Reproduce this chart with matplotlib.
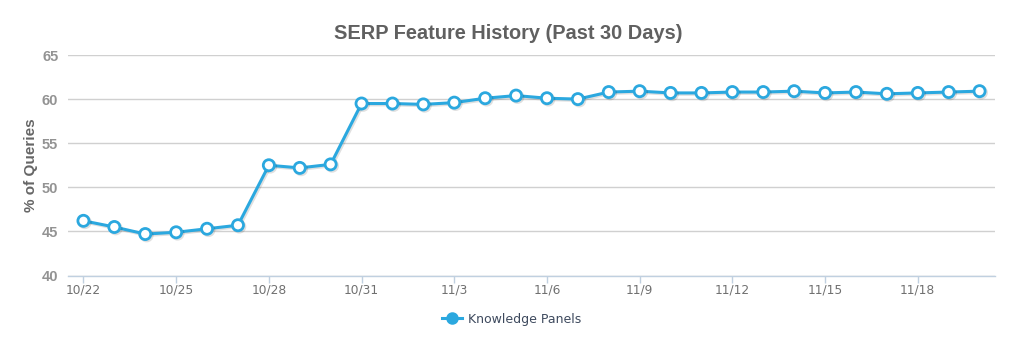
import matplotlib
matplotlib.use("Agg")
import matplotlib.pyplot as plt
import matplotlib.patheffects as pe

dates = ["10/22", "10/23", "10/24", "10/25", "10/26", "10/27", "10/28", "10/29",
         "10/30", "10/31", "11/1", "11/2", "11/3", "11/4", "11/5", "11/6", "11/7",
         "11/8", "11/9", "11/10", "11/11", "11/12", "11/13", "11/14", "11/15",
         "11/16", "11/17", "11/18", "11/19", "11/20"]
knowledge_panels = [46.2, 45.5, 44.7, 44.9, 45.3, 45.7, 52.5, 52.2, 52.6, 59.5,
                    59.5, 59.4, 59.6, 60.1, 60.4, 60.1, 60.0, 60.8, 60.9, 60.7,
                    60.7, 60.8, 60.8, 60.9, 60.7, 60.8, 60.6, 60.7, 60.8, 60.9]
y_ticks = [40, 45, 50, 55, 60, 65]

LINE = "#2ba8df"

fig = plt.figure(figsize=(10.24, 3.49), dpi=100)
ax = fig.add_axes([0.0664, 0.2106, 0.9053, 0.6318])

x = list(range(len(dates)))
ax.plot(x, knowledge_panels, color=LINE, lw=2.2, marker="o", ms=8,
        mfc="white", mec=LINE, mew=2, zorder=3, solid_joinstyle="round",
        path_effects=[pe.SimpleLineShadow(offset=(1, -1), alpha=0.12, shadow_color="black"),
                      pe.Normal()],
        label="Knowledge Panels")

ax.set_xlim(-0.5, len(dates) - 0.5)
ax.set_ylim(40, 65)
ax.set_yticks(y_ticks)
ax.set_xticks(x[::3])
ax.set_xticklabels(dates[::3])

ax.grid(axis="y", color="#d0d0d0", lw=1)
ax.set_axisbelow(True)
for side in ("top", "right", "left"):
    ax.spines[side].set_visible(False)
ax.spines["bottom"].set_color("#c0d0e0")
ax.spines["bottom"].set_linewidth(1)

ax.tick_params(axis="y", length=0, pad=7, labelsize=10.5, labelcolor="#939393")
for lbl in ax.get_yticklabels():
    lbl.set_fontfamily("Liberation Sans")
    lbl.set_fontweight("bold")
ax.tick_params(axis="x", length=5, color="#c0d0e0", width=1, pad=1,
               labelsize=8.8, labelcolor="#707070")

ax.set_ylabel("% of Queries", fontsize=11, fontweight="bold", color="#666666",
              family="Liberation Sans", labelpad=3)

fig.text(0.496, 0.905, "SERP Feature History (Past 30 Days)", ha="center", va="center",
         fontsize=14.4, fontweight="bold", color="#606060", family="Liberation Sans")

leg = fig.legend(loc="center", bbox_to_anchor=(0.5, 0.085), frameon=False,
                 fontsize=9, handlelength=1.6, handletextpad=0.5)
for t in leg.get_texts():
    t.set_color("#3e4a5e")
for h in leg.legend_handles:
    h.set_markerfacecolor(LINE)
    h.set_markeredgecolor(LINE)
    h.set_markersize(7)
    h.set_path_effects([])

fig.savefig("out.png", dpi=100, facecolor="white")
